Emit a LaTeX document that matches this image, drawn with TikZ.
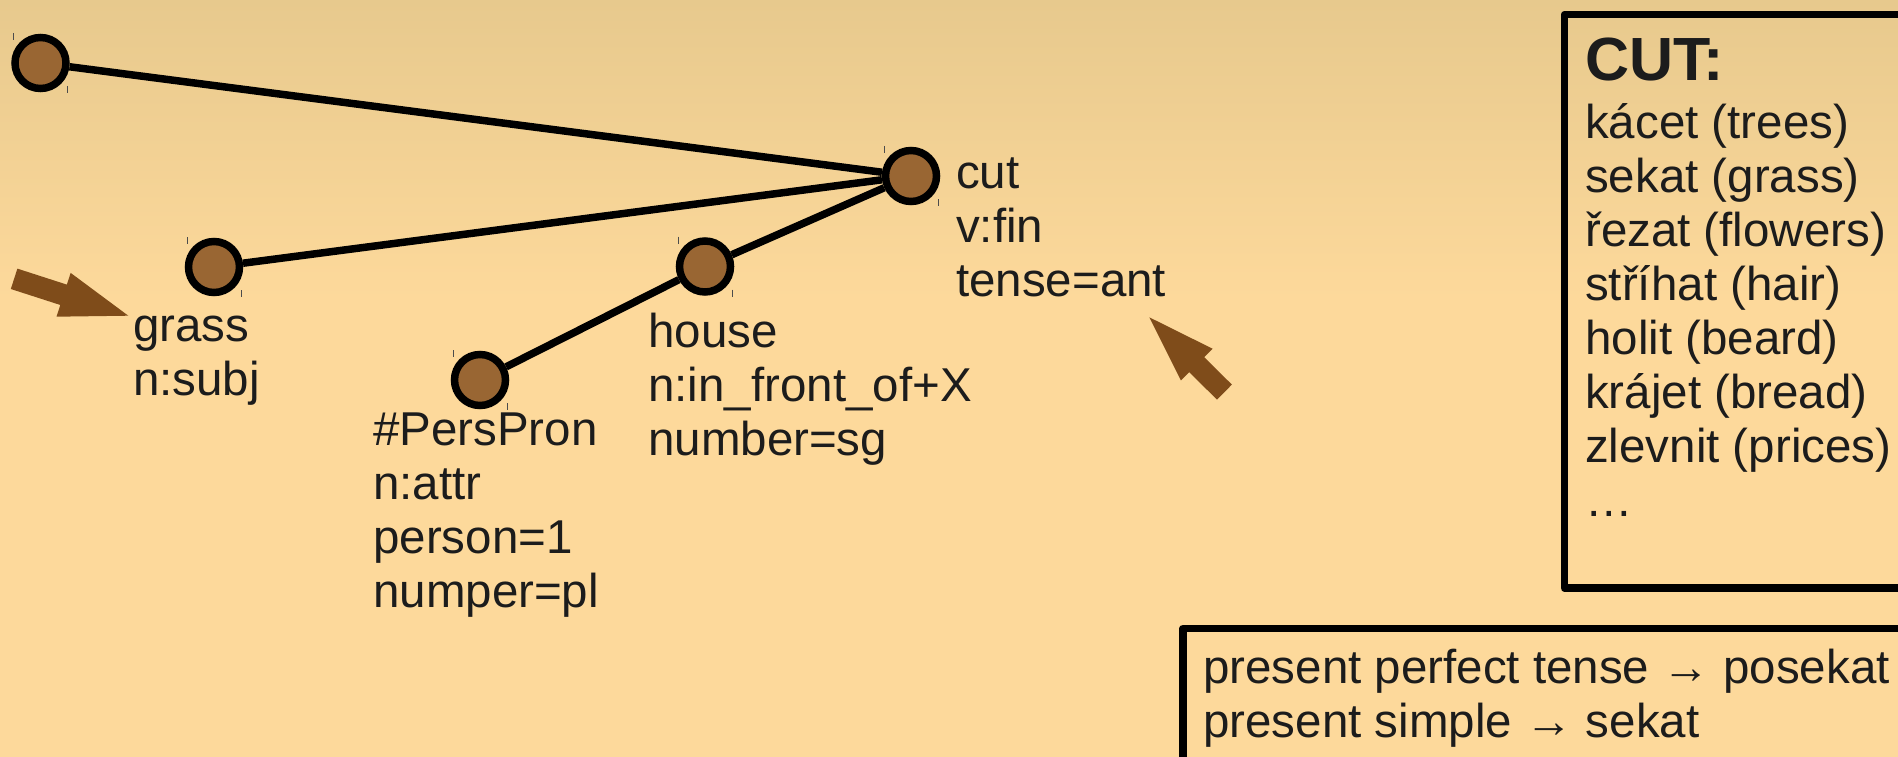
\documentclass[tikz,border=0pt]{standalone}
\usepackage{fontspec}
\setmainfont{Liberation Sans}

\definecolor{bgtop}{RGB}{231,201,141}
\definecolor{bgbottom}{RGB}{253,217,155}
\definecolor{nodebrown}{RGB}{153,102,51}
\definecolor{pointerbrown}{RGB}{127,76,26}
\definecolor{textgray}{RGB}{28,28,28}

\tikzset{
	word/.style={circle, draw=black, fill=nodebrown, line width=7.5pt, minimum size=51pt, inner sep=0pt},
	dep/.style={line width=7.5pt},
	tickmark/.style={draw=black!70, line width=0.9pt},
	lbl/.style={anchor=base west, align=left, inner sep=0pt, text=textgray},
	pointer/.style={fill=pointerbrown},
	frame/.style={draw=black, line width=7.5pt, line join=round}
}

\begin{document}
\begin{tikzpicture}[x=1pt, y=-1pt, font=\fontsize{47.5}{54}\selectfont]
	\useasboundingbox (0,0) rectangle (1898,757);
	\clip (0,0) rectangle (1898,757);
	%background, darker band at the top
	\shade[top color=bgtop, bottom color=bgbottom] (0,0) rectangle (1898,300);
	\fill[bgbottom] (0,299) rectangle (1898,757);

	%tree nodes
	\node[word] (root) at (40.5,63) {};
	\node[word] (cut) at (911,176) {};
	\node[word] (grass) at (214,267) {};
	\node[word] (house) at (705,266.5) {};
	\node[word] (perspron) at (480,380) {};
	%small handles at the corners of each node
	\foreach \n in {root,cut,grass,house,perspron} {
		\draw[tickmark] ([shift={(-27,-30)}]\n.center) -- ++(0,7);
		\draw[tickmark] ([shift={(27,23)}]\n.center) -- ++(0,7);
	}
	%dependency edges
	\draw[dep] (root) -- (cut);
	\draw[dep] (grass) -- (cut);
	\draw[dep] (house) -- (cut);
	\draw[dep] (perspron) -- (house);

	%node labels (placed at the baseline of their last line)
	\node[lbl] (cutlbl) at (956,296) {cut\\v:fin\\tense=ant};
	\node[lbl] (grasslbl) at (133,395) {grass\\n:subj};
	\node[lbl] (houselbl) at (648,455) {house\\n:in\_front\_of+X\\number=sg};
	\node[lbl] (perspronlbl) at (373,607) {\#PersPron\\n:attr\\person=1\\numper=pl};

	%brown pointers
	\begin{scope}[shift={(128.3,315.7)}, rotate=-17.9]
		\fill[pointer] (0,0) -- (-68,23) -- (-68,10.7) -- (-120,10.7) -- (-120,-10.7) -- (-68,-10.7) -- (-68,-23) -- cycle;
	\end{scope}
	\begin{scope}[shift={(1149.3,317.3)}, rotate=135.1]
		\fill[pointer] (0,0) -- (-67,22.4) -- (-67,10.6) -- (-106,10.6) -- (-106,-10.6) -- (-67,-10.6) -- (-67,-22.4) -- cycle;
	\end{scope}

	%translations of CUT
	\draw[frame] (1564.5,14.5) rectangle (1960,588);
	\node[lbl, font=\fontsize{61}{66}\bfseries] (cuttitle) at (1585,81) {CUT:};
	\node[lbl] (cutlist) at (1585,516) {kácet (trees)\\sekat (grass)\\řezat (flowers)\\stříhat (hair)\\holit (beard)\\krájet (bread)\\zlevnit (prices)\\…};

	%tense box
	\draw[frame] (1183,628.5) rectangle (1960,800);
	\node[lbl] (tenselbl) at (1203,737) {present perfect tense → posekat\\present simple → sekat};
\end{tikzpicture}
\end{document}
